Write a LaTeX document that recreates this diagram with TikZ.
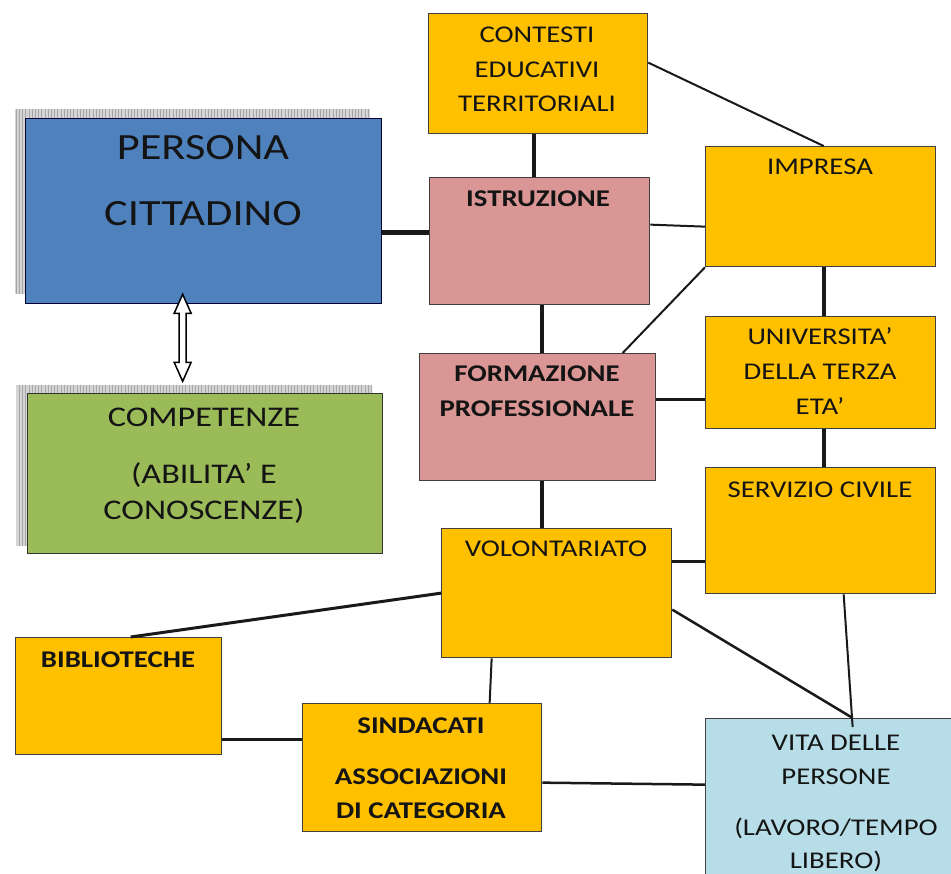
\documentclass[tikz,border=0pt]{standalone}
\usepackage{fontspec}
\setmainfont{Carlito}[FakeStretch=1.2]
\usetikzlibrary{calc,backgrounds}
\definecolor{pblue}{HTML}{4F81BD}
\definecolor{pgreen}{HTML}{9BBB59}
\definecolor{prose}{HTML}{D99694}
\definecolor{porange}{HTML}{FFC000}
\definecolor{paqua}{HTML}{B7DEE8}
\definecolor{ink}{HTML}{141414}
\definecolor{shfill}{HTML}{D4D4D4}
\definecolor{shline}{HTML}{A6A6A6}
\tikzset{
  box/.style={draw=black!75, line width=1.3pt, inner sep=0pt, anchor=north west},
  txt/.style={anchor=base, inner sep=0pt, text=ink, font=\fontsize{24}{29}\selectfont},
  txtb/.style={txt, font=\fontsize{24}{29}\selectfont\bfseries},
  cl/.style={draw=black!90, line width=#1},
  shadowfill/.style={fill=shfill},
  shadowgrid/.style={draw=shline, line width=0.5pt, step=3.2},
  blockarrow/.style={draw=black, fill=white, line width=1.5pt, line join=miter}
}
\begin{document}
\begin{tikzpicture}[x=1pt,y=-1pt]
\useasboundingbox (0,0) rectangle (951,874);
\clip (0,0) rectangle (951,874);

% boxes
\node[box, fill=pblue, draw=black!80!blue, minimum width=356, minimum height=185] (persona) at (25,118) {};
\node[box, fill=pgreen, draw=black!80, minimum width=355, minimum height=160] (competenze) at (27,393) {};
\node[box, fill=porange, minimum width=219, minimum height=120] (contesti) at (428,13) {};
\node[box, fill=prose, minimum width=220, minimum height=127] (istruzione) at (429,177) {};
\node[box, fill=porange, minimum width=230, minimum height=120] (impresa) at (705,146) {};
\node[box, fill=prose, minimum width=236, minimum height=127] (formazione) at (419,353) {};
\node[box, fill=porange, minimum width=230, minimum height=112] (universita) at (705,316) {};
\node[box, fill=porange, minimum width=230, minimum height=126] (servizio) at (705,467) {};
\node[box, fill=porange, minimum width=230, minimum height=129] (volont) at (441,528) {};
\node[box, fill=porange, minimum width=206, minimum height=117] (biblio) at (15,637) {};
\node[box, fill=porange, minimum width=239, minimum height=128] (sindacati) at (302,703) {};
\node[box, fill=paqua, minimum width=262, minimum height=172] (vita) at (705,718) {};

% shadows
\begin{pgfonlayer}{background}
\fill[shadowfill] ([shift={(-10,-9)}]persona.north west) rectangle ([shift={(-12,-10)}]persona.south east);
\draw[shadowgrid] ([shift={(-10,-9)}]persona.north west) grid ([shift={(-12,-10)}]persona.south east);
\fill[shadowfill] ([shift={(-11,-8)}]competenze.north west) rectangle ([shift={(-11,-8)}]competenze.south east);
\draw[shadowgrid] ([shift={(-11,-8)}]competenze.north west) grid ([shift={(-11,-8)}]competenze.south east);
\end{pgfonlayer}

% texts
\node[txt, font=\fontsize{37}{44}\selectfont] (t-persona-1) at (203,160) {PERSONA};
\node[txt, font=\fontsize{37}{44}\selectfont] (t-persona-2) at (203,226) {CITTADINO};
\node[txt, font=\fontsize{28.5}{34}\selectfont] (t-comp-1) at (204,427) {COMPETENZE};
\node[txt, font=\fontsize{28.5}{34}\selectfont] (t-comp-2) at (204,484) {(ABILITA’ E};
\node[txt, font=\fontsize{28.5}{34}\selectfont] (t-comp-3) at (204,519) {CONOSCENZE)};
\node[txt] (t-cont-1) at (537,43) {CONTESTI};
\node[txt] (t-cont-2) at (537,78) {EDUCATIVI};
\node[txt] (t-cont-3) at (537,112) {TERRITORIALI};
\node[txtb] (t-istr) at (538,207) {ISTRUZIONE};
\node[txt] (t-impr) at (820,175) {IMPRESA};
\node[txtb] (t-form-1) at (537,382) {FORMAZIONE};
\node[txtb] (t-form-2) at (537,417) {PROFESSIONALE};
\node[txt] (t-univ-1) at (820,345) {UNIVERSITA’};
\node[txt] (t-univ-2) at (820,380) {DELLA TERZA};
\node[txt] (t-univ-3) at (820,415) {ETA’};
\node[txt] (t-serv) at (820,497) {SERVIZIO CIVILE};
\node[txt] (t-volo) at (556,556) {VOLONTARIATO};
\node[txtb] (t-bibl) at (118,667) {BIBLIOTECHE};
\node[txtb] (t-sind-1) at (421,733) {SINDACATI};
\node[txtb] (t-sind-2) at (421,784) {ASSOCIAZIONI};
\node[txtb] (t-sind-3) at (421,818) {DI CATEGORIA};
\node[txt] (t-vita-1) at (836,750) {VITA DELLE};
\node[txt] (t-vita-2) at (836,784) {PERSONE};
\node[txt] (t-vita-3) at (836,835) {(LAVORO/TEMPO};
\node[txt] (t-vita-4) at (836,868) {LIBERO)};

% connectors
\coordinate (c1) at ([yshift=-21.5pt]persona.east);
\draw[cl=5pt] (c1) -- (c1 -| istruzione.west);
\coordinate (c2) at ([xshift=-4.5pt]contesti.south);
\draw[cl=4pt] (c2) -- (c2 |- istruzione.north);
\draw[cl=2pt] ([yshift=11pt]contesti.east) -- ([xshift=3pt]impresa.north);
\draw[cl=2pt] ([yshift=16.5pt]istruzione.east) -- ([yshift=-20pt]impresa.west);
\draw[cl=2pt] (impresa.south west) -- ([xshift=85pt]formazione.north);
\coordinate (c6) at ([xshift=2pt]istruzione.south);
\draw[cl=4pt] (c6) -- (c6 |- formazione.north);
\coordinate (c7) at ([yshift=17.5pt]formazione.east);
\draw[cl=3pt] (c7) -- (c7 -| universita.west);
\coordinate (c8) at ([xshift=3pt]impresa.south);
\draw[cl=4pt] (c8) -- (c8 |- universita.north);
\coordinate (c9) at ([xshift=3pt]universita.south);
\draw[cl=4pt] (c9) -- (c9 |- servizio.north);
\coordinate (c10) at ([xshift=4pt]formazione.south);
\draw[cl=4pt] (c10) -- (c10 |- volont.north);
\coordinate (c11) at ([yshift=31.5pt]volont.east);
\draw[cl=3pt] (c11) -- (c11 -| servizio.west);
\draw[cl=3pt] (volont.west) -- ([xshift=12pt]biblio.north);
\draw[cl=2pt] ([xshift=-65pt]volont.south) -- ([xshift=67.5pt]sindacati.north);
\coordinate (c14) at ([yshift=-43.5pt]biblio.east);
\draw[cl=3pt] (c14) -- (c14 -| sindacati.west);
\draw[cl=2.5pt] ([yshift=-15pt]sindacati.east) -- ([yshift=20pt]vita.west);
\draw[cl=2.5pt] ([yshift=-16.5pt]volont.east) -- ([xshift=16pt]vita.north);
\draw[cl=2pt] ([xshift=23pt]servizio.south) -- ([xshift=16pt,yshift=-9pt]vita.north);

% double block arrow between persona and competenze
\draw[blockarrow] ([xshift=-21pt,yshift=10pt]persona.south)
  -- ++(8.5,19) -- ++(-5,0) -- ++(0,49) -- ++(5,0) -- ++(-8.5,19)
  -- ++(-8.5,-19) -- ++(5,0) -- ++(0,-49) -- ++(-5,0) -- cycle;
\end{tikzpicture}
\end{document}
